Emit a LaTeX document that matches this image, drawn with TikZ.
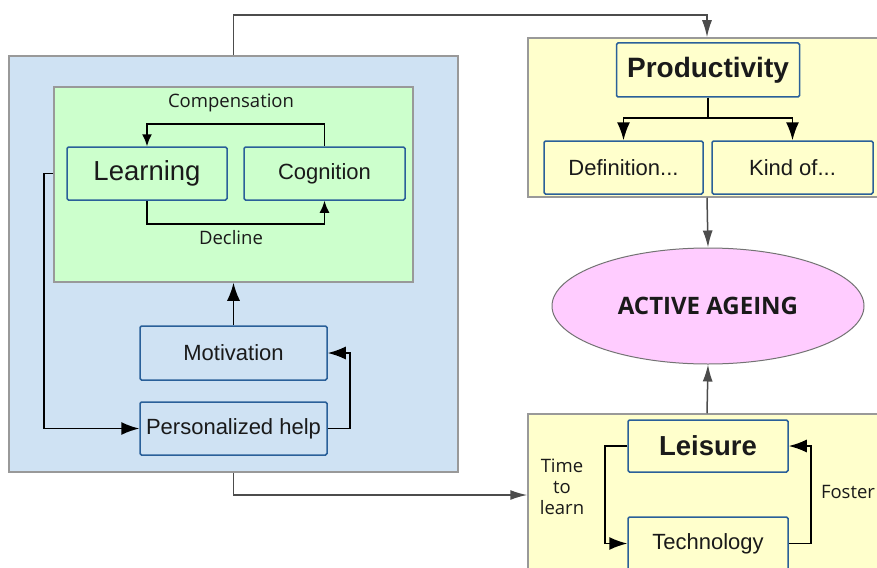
\documentclass[tikz,border=0pt]{standalone}
\usepackage{fontspec}
\setmainfont{Liberation Sans}
\newfontfamily\labelfont{Open Sans}
\usepackage{tikz}
\usetikzlibrary{arrows.meta}
\usetikzlibrary{shapes.geometric}
\usetikzlibrary{calc}
\definecolor{bluebg}{HTML}{CFE2F3}
\definecolor{greenbg}{HTML}{CCFFCC}
\definecolor{yellowbg}{HTML}{FFFFCC}
\definecolor{pinkbg}{HTML}{FFCCFF}
\definecolor{nodeline}{HTML}{2A6099}
\definecolor{boxline}{HTML}{999999}
\definecolor{inktext}{HTML}{1A1A1A}
\tikzstyle{container}=[draw=boxline,line width=1.5pt,inner sep=0pt]
\tikzstyle{item}=[draw=nodeline,line width=1.5pt,rounded corners=1.5pt,inner sep=0pt,text=inktext,font=\fontsize{22}{26}\selectfont]
\tikzstyle{link}=[-{Latex[length=18pt,width=13pt]},line width=1.6pt,black]
\tikzstyle{outlink}=[-{Latex[length=17pt,width=10pt]},line width=1.5pt,black!70]
\tikzstyle{tag}=[text=inktext,font=\labelfont\fontsize{18.5}{21}\selectfont,align=center]

\begin{document}
\begin{tikzpicture}[x=1pt,y=-1pt]
      \useasboundingbox (0,0) rectangle (877,567);
      \fill[white] (0,0) rectangle (877,567);
      % containers
      \node[container,fill=bluebg,minimum width=449pt,minimum height=416pt] (blue) at (233.5,264) {};
      \node[container,fill=greenbg,minimum width=359pt,minimum height=195pt] (green) at (233.5,184.5) {};
      \node[container,fill=yellowbg,minimum width=358pt,minimum height=159pt] (prodbox) at (707,117.5) {};
      \node[container,fill=yellowbg,minimum width=358pt,minimum height=162pt] (leisbox) at (707,495) {};
      % left part
      \node[item,fill=greenbg,minimum width=160pt,minimum height=53pt,font=\fontsize{27.5}{31}\selectfont] (learn) at (147,173.5) {Learning};
      \node[item,fill=greenbg,minimum width=161pt,minimum height=53pt] (cog) at (324.5,173.5) {Cognition};
      \node[item,fill=bluebg,minimum width=187pt,minimum height=54pt] (motiv) at (233.5,353) {Motivation};
      \node[item,fill=bluebg,minimum width=187pt,minimum height=53pt] (help) at (233.5,428.5) {Personalized help};
      \node[tag] (comp) at (231,103) {Compensation};
      \node[tag] (decl) at (231,238) {Decline};
      % right part
      \node[item,fill=yellowbg,minimum width=183pt,minimum height=54pt,font=\bfseries\fontsize{28}{32}\selectfont] (prod) at (708,70) {Productivity};
      \node[item,fill=yellowbg,minimum width=159pt,minimum height=53pt] (def) at (623.5,167.5) {Definition...};
      \node[item,fill=yellowbg,minimum width=161pt,minimum height=53pt] (kind) at (792.5,167.5) {Kind of...};
      \node[ellipse,draw=black!55,line width=1pt,fill=pinkbg,minimum width=312pt,minimum height=116pt,inner sep=0pt,text=inktext,font=\labelfont\bfseries\fontsize{24}{28}\selectfont] (aging) at (708,306) {ACTIVE AGEING};
      \node[item,fill=yellowbg,minimum width=160pt,minimum height=52pt,font=\bfseries\fontsize{27.5}{31}\selectfont] (leis) at (708,446) {Leisure};
      \node[item,fill=yellowbg,minimum width=160pt,minimum height=53pt] (tech) at (708,543.5) {Technology};
      \node[tag] (time) at (562,487) {Time\\to\\learn};
      \node[tag] (fost) at (848,492) {Foster};
      % connectors
      \draw[link,-{Latex[length=12pt,width=10pt]}] (cog.north) -- ++(0,-22) -| (learn.north);
      \draw[link,-{Latex[length=12pt,width=10pt]}] (learn.south) -- ++(0,23) -| (cog.south);
      \draw[link] (motiv.north) -- (green.south);
      \draw[link] (help.east) -- ++(22,0) |- (motiv.east);
      \draw[link] (green.west |- learn.west) -- ++(-9,0) |- (help.west);
      \draw[link] (prod.south) -- ++(0,20) -| (def.north);
      \draw[link] (prod.south) -- ++(0,20) -| (kind.north);
      \draw[link] (leis.west) -- ++(-22,0) |- (tech.west);
      \draw[link] (tech.east) -- ++(22,0) |- (leis.east);
      \draw[outlink] (blue.north) -- ++(0,-40) -| (prodbox.north);
      \draw[outlink] (blue.south) |- (leisbox.west);
      \draw[outlink] (prodbox.south) -- (aging.north);
      \draw[outlink] (leisbox.north) -- (aging.south);
    \end{tikzpicture}
\end{document}
